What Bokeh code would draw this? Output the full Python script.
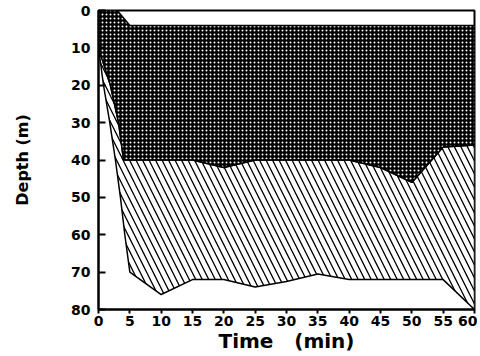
from bokeh.plotting import figure
from bokeh.models import Range1d, FixedTicker
from bokeh.embed import file_html
from bokeh.resources import INLINE

# Dive-profile zones (Time in min, Depth in m)
time_top = [0, 3, 5, 60]
depth_top = [0, 0, 4, 4]

time_mid = [0, 1.9, 3.2, 4, 15, 20, 25, 40, 45, 50, 55, 60]
depth_mid = [10, 20, 30, 40, 40, 42, 40, 40, 42, 46, 36.5, 36]

time_outer = [0, 0.8, 1.8, 2.7, 3.5, 4.2, 5, 10, 15, 20, 25, 30, 35, 40, 55, 60]
depth_outer = [10, 20, 30, 40, 50, 60, 70, 76, 72, 72, 74, 72.5, 70.5, 72, 72, 80]

x_ticks = list(range(0, 65, 5))
y_ticks = list(range(0, 90, 10))

p = figure(width=477, height=356, output_backend="svg", toolbar_location=None,
           x_range=Range1d(0, 60), y_range=Range1d(80, 0),
           min_border_left=98, min_border_right=3, min_border_top=10, min_border_bottom=47)
p.grid.visible = False
p.background_fill_color = "white"
p.border_fill_color = "white"
p.outline_line_color = "black"
p.outline_line_width = 2

# diagonal-hatched zone
hx = time_outer + time_mid[::-1]
hy = depth_outer + depth_mid[::-1]
p.patch(hx, hy, fill_color="white", hatch_pattern="\\", hatch_scale=13,
        hatch_color="black", hatch_weight=1.3, line_color="black", line_width=1.5)

# cross-hatched zone
cx = time_top + time_mid[::-1]
cy = depth_top + depth_mid[::-1]
p.patch(cx, cy, fill_color="black", hatch_pattern=".", hatch_scale=4,
        hatch_color="white", hatch_weight=0.6, line_color="black", line_width=1.5)

for ax in (p.xaxis, p.yaxis):
    ax.axis_line_width = 2
    ax.major_tick_line_width = 2
    ax.minor_tick_line_color = None
    ax.major_label_text_font = "DejaVu Sans"
    ax.major_label_text_font_style = "bold"
    ax.major_label_text_font_size = "14px"
    ax.major_label_text_color = "black"
    ax.axis_label_text_font = "DejaVu Sans"
    ax.axis_label_text_font_style = "bold"
    ax.axis_label_text_color = "black"

p.xaxis.ticker = FixedTicker(ticks=x_ticks)
p.yaxis.ticker = FixedTicker(ticks=y_ticks)
p.xaxis.major_tick_in = 0
p.xaxis.major_tick_out = 4
p.yaxis.major_tick_in = 7
p.yaxis.major_tick_out = 0
p.xaxis.major_label_standoff = 2
p.yaxis.major_label_standoff = 8
p.xaxis.axis_label = "Time\u00a0\u00a0\u00a0(min)"
p.yaxis.axis_label = "Depth (m)"
p.xaxis.axis_label_text_font_size = "20px"
p.yaxis.axis_label_text_font_size = "16px"
p.xaxis.axis_label_standoff = 0
p.yaxis.axis_label_standoff = 36

open("out.html", "w").write(file_html(p, INLINE))
